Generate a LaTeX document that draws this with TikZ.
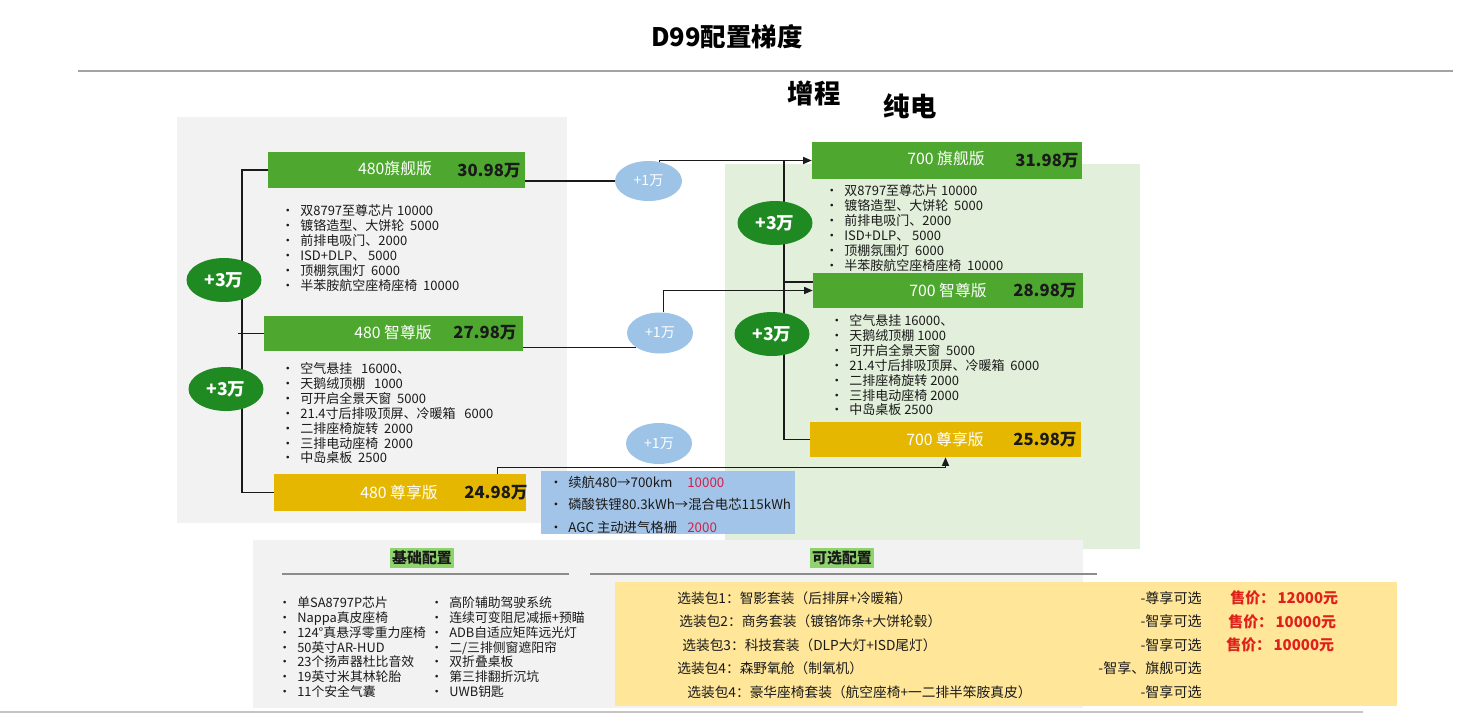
\documentclass[tikz,border=0pt]{standalone}
\usepackage{fontspec}
\setmainfont{Noto Sans CJK SC}
\usetikzlibrary{arrows.meta,calc,positioning,shapes.geometric}
\definecolor{PanelGray}{HTML}{F2F2F2}
\definecolor{PanelGreen}{HTML}{E2EFDA}
\definecolor{TierGreen}{HTML}{4EA72E}
\definecolor{TierGold}{HTML}{E5B700}
\definecolor{StepGreen}{HTML}{1F8A22}
\definecolor{StepBlue}{HTML}{9DC3E6}
\definecolor{RangeBlue}{HTML}{A2C4E8}
\definecolor{PackYellow}{HTML}{FFE699}
\definecolor{MarkGreen}{HTML}{8ED36B}
\definecolor{PriceRed}{HTML}{E0201B}
\definecolor{NumRed}{HTML}{D4204A}
\definecolor{InkDark}{HTML}{1A1A1A}
\definecolor{RuleGray}{HTML}{8C8C8C}
\newcommand{\itm}{\makebox[0.38cm][l]{•}}
\pgfdeclarelayer{back}
\pgfdeclarelayer{wires}
\pgfsetlayers{back,wires,main}

\begin{document}
\begin{tikzpicture}[x=0.02cm,y=-0.02cm,
    font=\fontsize{7.4}{8.45}\selectfont,
    tierbox/.style={inner sep=0,minimum height=0.72cm},
    tiername/.style={text=white,font=\fontsize{9}{10}\selectfont},
    tierprice/.style={text=InkDark,font=\fontsize{9.5}{10}\selectfont\bfseries},
    featlist/.style={anchor=north west,align=left,inner sep=0,text=InkDark},
    stepthree/.style={ellipse,fill=StepGreen,text=white,inner sep=0,minimum width=1.5cm,minimum height=0.88cm,font=\fontsize{10}{12}\selectfont\bfseries},
    stepone/.style={ellipse,fill=StepBlue,text=white,inner sep=0,minimum width=1.32cm,minimum height=0.8cm,font=\fontsize{8}{10}\selectfont},
    conn/.style={draw=InkDark,line width=0.8pt},
    arr/.style={conn,-{Triangle[length=1.7mm,width=1.4mm]}},
    headmark/.style={fill=MarkGreen,inner xsep=1pt,inner ysep=1.5pt,text=InkDark,font=\fontsize{8.5}{10}\selectfont\bfseries},
    grayrule/.style={draw=RuleGray,line width=1pt}
  ]
  \useasboundingbox (0,0) rectangle (1470,714);
  \begin{pgfonlayer}{back}
    \fill[white] (0,0) rectangle (1470,714);
    \fill[PanelGray] (177,117) rectangle (567,523);
    \fill[PanelGreen] (725,164) rectangle (1140,549);
    \fill[PanelGray] (253,540) rectangle (1083,708);
    \fill[PackYellow] (615,582) rectangle (1397,706);
  \end{pgfonlayer}

  % heading
  \node[font=\fontsize{14.5}{16}\selectfont\bfseries] (title) at (727,37) {D99配置梯度};
  \draw[draw=RuleGray!80,line width=1pt] (78,71) -- (1453,71);
  \node[font=\fontsize{15}{16}\selectfont\bfseries] (erev) at (814,93) {增程};
  \node[font=\fontsize{15}{16}\selectfont\bfseries] (bev) at (910,106) {纯电};

  % range extender ladder
  \node[tierbox,fill=TierGreen,minimum width=5.14cm] (q480) at (396.5,170) {};
  \node[tiername] (q480n) at (395,169) {480旗舰版};
  \node[tierprice] (q480p) at (489,171) {30.98万};
  \node[tierbox,fill=TierGreen,minimum width=5.18cm,minimum height=0.7cm] (s480) at (393.5,333.5) {};
  \node[tiername] (s480n) at (393,332) {480 智尊版};
  \node[tierprice] (s480p) at (485,333) {27.98万};
  \node[tierbox,fill=TierGold,minimum width=5.04cm,minimum height=0.74cm] (z480) at (400,492.5) {};
  \node[tiername] (z480n) at (399,492) {480 尊享版};
  \node[tierprice] (z480p) at (496,493) {24.98万};

  \node[featlist] (q480f) at (281,204.5) {\itm 双8797至尊芯片 10000\\
    \itm 镀铬造型、大饼轮~~5000\\
    \itm 前排电吸门、2000\\
    \itm ISD+DLP、 5000\\
    \itm 顶棚氛围灯~~6000\\
    \itm 半苯胺航空座椅座椅~~10000};
  \node[featlist] (s480f) at (281,362.5) {\itm 空气悬挂~~~16000、\\
    \itm 天鹅绒顶棚~~~1000\\
    \itm 可开启全景天窗~~5000\\
    \itm 21.4寸后排吸顶屏、冷暖箱~~~6000\\
    \itm 二排座椅旋转~~2000\\
    \itm 三排电动座椅~~2000\\
    \itm 中岛桌板~~2500};

  \node[stepthree] (up3a) at (224,280) {+3万};
  \node[stepthree] (up3b) at (226,389) {+3万};

  % pure electric ladder
  \node[tierbox,fill=TierGreen,minimum width=5.4cm,minimum height=0.74cm] (q700) at (947,160.5) {};
  \node[tiername] (q700n) at (946,159) {700 旗舰版};
  \node[tierprice] (q700p) at (1047,161) {31.98万};
  \node[tierbox,fill=TierGreen,minimum width=5.4cm,minimum height=0.7cm] (s700) at (948,290.5) {};
  \node[tiername] (s700n) at (948,290) {700 智尊版};
  \node[tierprice] (s700p) at (1045,291) {28.98万};
  \node[tierbox,fill=TierGold,minimum width=5.42cm,minimum height=0.7cm] (z700) at (945.5,439.5) {};
  \node[tiername] (z700n) at (945,439) {700 尊享版};
  \node[tierprice] (z700p) at (1045,440) {25.98万};

  \node[featlist] (q700f) at (825,184.5) {\itm 双8797至尊芯片 10000\\
    \itm 镀铬造型、大饼轮~~5000\\
    \itm 前排电吸门、2000\\
    \itm ISD+DLP、 5000\\
    \itm 顶棚氛围灯~~6000\\
    \itm 半苯胺航空座椅座椅~~10000};
  \node[featlist] (s700f) at (830,314.5) {\itm 空气悬挂 16000、\\
    \itm 天鹅绒顶棚 1000\\
    \itm 可开启全景天窗~~5000\\
    \itm 21.4寸后排吸顶屏、冷暖箱~~6000\\
    \itm 二排座椅旋转 2000\\
    \itm 三排电动座椅 2000\\
    \itm 中岛桌板 2500};

  \node[stepthree] (up3c) at (775,223) {+3万};
  \node[stepthree] (up3d) at (772,334) {+3万};

  % cross steps
  \node[stepone,minimum width=1.34cm] (p1a) at (648.5,181) {+1万};
  \node[stepone,minimum height=0.82cm] (p1b) at (660,333) {+1万};
  \node[stepone,minimum height=0.82cm] (p1c) at (659,443.5) {+1万};

  \node[fill=RangeBlue,inner sep=0,minimum width=5.08cm,minimum height=1.26cm] (rng) at (668,502.5) {};
  \node[featlist,font=\fontsize{7.6}{12.8}\selectfont] (rngf) at (549,475.5) {%
    \itm\makebox[2.38cm][l]{续航480→700km}\textcolor{NumRed}{10000}\\
    \itm 磷酸铁锂80.3kWh→混合电芯115kWh\\
    \itm\makebox[2.38cm][l]{AGC 主动进气格栅}\textcolor{NumRed}{2000}};

  \begin{pgfonlayer}{wires}
    \coordinate (ladl) at (242,0);
    \coordinate (ladr) at (784,0);
    \coordinate (rmid) at (784,282);
    \draw[conn] (q480.west) -- (q480.west -| ladl) -- (z480.west -| ladl) -- (z480.west);
    \draw[conn] (s480.west) -- ++(-26,0);
    \draw[conn] (q700.west -| ladr) -- (z700.west -| ladr) -- (z700.west);
    \draw[conn] (rmid) -- (rmid -| s700.west);
    \draw[conn] (q480.east |- p1a.west) -- (p1a.west);
    \draw[arr] (p1a.60) |- (q700.west);
    \draw[conn] (s480.east |- p1b.south west) -- (p1b.south west);
    \draw[arr] (p1b.80) |- (s700.west);
    \draw[arr] ($(z480.north east)+(-29,0)$) -- ++(0,-6) -| (z700.south);
  \end{pgfonlayer}

  % base and optional equipment
  \node[headmark] (basehd) at (422,558) {基础配置};
  \node[headmark] (opthd) at (842,558) {可选配置};
  \draw[grayrule] (282,574) -- (569,574);
  \draw[grayrule] (590,574) -- (1097,574);
  \node[featlist,font=\fontsize{7.3}{8.42}\selectfont] (basea) at (278,596.5) {\itm 单SA8797P芯片\\
    \itm Nappa真皮座椅\\
    \itm 124°真悬浮零重力座椅\\
    \itm 50英寸AR-HUD\\
    \itm 23个扬声器杜比音效\\
    \itm 19英寸米其林轮胎\\
    \itm 11个安全气囊};
  \node[featlist,font=\fontsize{7.3}{8.42}\selectfont] (baseb) at (430,596.5) {\itm 高阶辅助驾驶系统\\
    \itm 连续可变阻尼减振+预瞄\\
    \itm ADB自适应矩阵远光灯\\
    \itm 二/三排侧窗遮阳帘\\
    \itm 双折叠桌板\\
    \itm 第三排翻折沉坑\\
    \itm UWB钥匙};
  \node[featlist,font=\fontsize{7.8}{13.37}\selectfont] (packs) at (677,591) {选装包1：智影套装（后排屏+冷暖箱）\\
    \hspace{0.04cm}选装包2：商务套装（镀铬饰条+大饼轮毂）\\
    \hspace{0.1cm}选装包3：科技套装（DLP大灯+ISD尾灯）\\
    选装包4：森野氧舱（制氧机）\\
    \hspace{0.2cm}选装包4：豪华座椅套装（航空座椅+一二排半笨胺真皮）};
  \node[anchor=north east,align=right,inner sep=0,text=InkDark,font=\fontsize{8}{13.37}\selectfont] (packfor) at (1202,591) {-尊享可选\\
    -智享可选\\
    -智享可选\\
    -智享、旗舰可选\\
    -智享可选};
  \node[featlist,text=PriceRed,font=\fontsize{8.5}{13.37}\selectfont\bfseries] (packprice) at (1226,590.5) {\hspace{0.08cm}售价：\,12000元\\
    \hspace{0.04cm}售价：\,10000元\\
    售价：\,10000元};
  \draw[draw=RuleGray!50,line width=0.6pt] (0,712) -- (1363,712);
\end{tikzpicture}
\end{document}
